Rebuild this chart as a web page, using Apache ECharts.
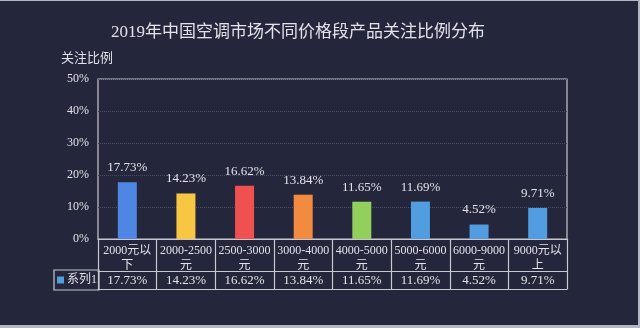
<!DOCTYPE html>
<html><head><meta charset="utf-8">
<script src="https://cdn.jsdelivr.net/npm/echarts@6/dist/echarts.min.js"></script>
<style>
html,body{margin:0;padding:0;background:#b4b6c2;width:640px;height:328px;overflow:hidden;}
#c{position:absolute;left:0;top:1px;width:638px;height:324px;background:#24263c;}
</style></head>
<body><div id="c"></div>
<script>
const titleText = '2019年中国空调市场不同价格段产品关注比例分布';
const yName = '关注比例';
const categories = ['2000元以\n下','2000-2500\n元','2500-3000\n元','3000-4000\n元','4000-5000\n元','5000-6000\n元','6000-9000\n元','9000元以\n上'];
const seriesName = '系列1';
const values = [17.73, 14.23, 16.62, 13.84, 11.65, 11.69, 4.52, 9.71];
const barColors = ['#4f86e4','#f7c744','#ef5050','#f28b40','#93cf5b','#529ddf','#529ddf','#529ddf'];
const yTicks = [0, 10, 20, 30, 40, 50];

const font = '"Liberation Serif","Noto Sans CJK SC",serif';
const txt = '#e2e2e8';
const lineC = '#c8c8d0';
const chart = echarts.init(document.getElementById('c'));
const fmt = v => v.toFixed(2) + '%';
chart.setOption({
  backgroundColor: '#24263c',
  animation: false,
  title: [
    {text: titleText, left: 106, top: 18, textStyle: {color: txt, fontSize: 17, fontWeight: 'normal', fontFamily: font}},
    {text: yName, left: 56, top: 46, textStyle: {color: txt, fontSize: 13, fontWeight: 'normal', fontFamily: font}}
  ],
  legend: {
    data: [{name: seriesName, icon: 'rect'}],
    left: 54, top: 269, itemWidth: 7, itemHeight: 7, itemGap: 0,
    padding: [4, 2, 4, 3],
    borderColor: lineC, borderWidth: 1.2,
    textStyle: {color: txt, fontSize: 12, fontFamily: font, padding: [0,0,0,-2]}
  },
  grid: {left: 98, right: 71, top: 78, bottom: 86, show: true, borderColor: lineC, borderWidth: 1.2, backgroundColor: 'transparent'},
  xAxis: [
    {type: 'category', data: categories, position: 'bottom',
     axisLine: {show: true, lineStyle: {color: lineC, width: 1.2}},
     axisTick: {show: true, length: 50, lineStyle: {color: lineC, width: 1.2}},
     axisLabel: {color: txt, fontSize: 12, lineHeight: 15, margin: 4, fontFamily: font, interval: 0}},
    {type: 'category', data: values.map(fmt), position: 'bottom', offset: 32,
     axisLine: {show: true, lineStyle: {color: lineC, width: 1.2}},
     axisTick: {show: false},
     axisLabel: {color: txt, fontSize: 13, margin: 3, fontFamily: font, interval: 0}},
    {type: 'category', data: categories, position: 'bottom', offset: 50,
     axisLine: {show: true, lineStyle: {color: lineC, width: 1.2}},
     axisTick: {show: false}, axisLabel: {show: false}}
  ],
  yAxis: {
    type: 'value', min: yTicks[0], max: yTicks[yTicks.length-1], interval: 10,
    axisLine: {show: false}, axisTick: {show: false},
    axisLabel: {color: txt, fontSize: 12, fontFamily: font, margin: 9, formatter: '{value}%'},
    splitLine: {show: true, lineStyle: {color: '#4a4c62', type: 'dotted', width: 1}}
  },
  series: [{
    name: seriesName, type: 'bar', xAxisIndex: 0, barWidth: 19,
    data: values.map((v, i) => ({value: v, itemStyle: {color: barColors[i]}})),
    itemStyle: {color: '#529ddf'},
    label: {show: true, position: 'top', distance: 8, color: txt, fontSize: 13, fontFamily: font,
            formatter: p => fmt(p.value)}
  }]
});
</script></body></html>
